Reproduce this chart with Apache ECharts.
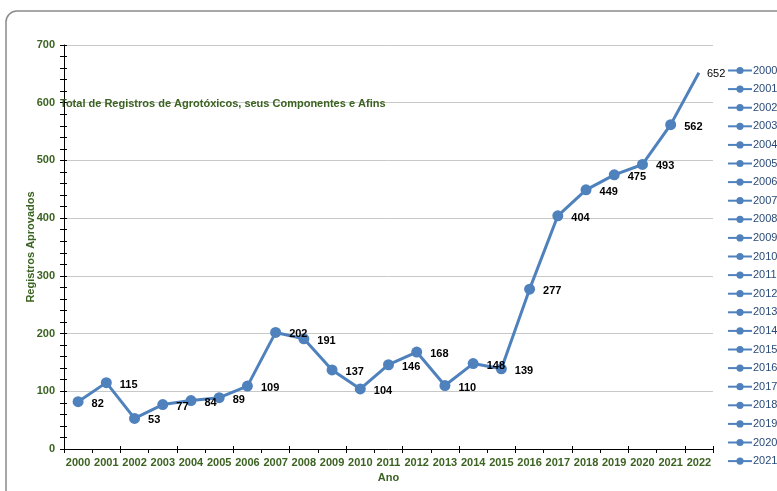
<!DOCTYPE html>
<html>
<head>
<meta charset="utf-8">
<script src="https://cdn.jsdelivr.net/npm/echarts@6/dist/echarts.min.js"></script>
<style>html,body{margin:0;padding:0;background:#fff;}#c{width:777px;height:491px;}</style>
</head>
<body>
<div id="c"></div>
<script>
var years = ['2000','2001','2002','2003','2004','2005','2006','2007','2008','2009','2010','2011','2012','2013','2014','2015','2016','2017','2018','2019','2020','2021','2022'];
var values = [82,115,53,77,84,89,109,202,191,137,104,146,168,110,148,139,277,404,449,475,493,562,652];
var legendNames = ['2000','2001','2002','2003','2004','2005','2006','2007','2008','2009','2010','2011','2012','2013','2014','2015','2016','2017','2018','2019','2020','2021'];
var yTicks = {min: 0, max: 700, interval: 100};
var titleText = 'Total de Registros de Agrotóxicos, seus Componentes e Afins';

var green = '#3B6321';
var blue = '#4F81BD';
var font = 'Liberation Sans, Arial, sans-serif';

var chart = echarts.init(document.getElementById('c'), null, {renderer: 'canvas'});

var mainData = values.map(function (v, i) {
  if (i === values.length - 1) {
    return {value: v, symbol: 'circle', symbolSize: 0, label: {fontWeight: 'normal', distance: 8, offset: [0, 1]}};
  }
  return v;
});

var series = [{
  name: 'Total',
  type: 'line',
  data: mainData,
  xAxisIndex: 0,
  yAxisIndex: 0,
  symbol: 'circle',
  symbolSize: 11,
  showAllSymbol: true,
  color: blue,
  lineStyle: {width: 3, color: blue},
  itemStyle: {color: blue},
  label: {
    show: true,
    position: 'right',
    distance: 8,
    offset: [0, 2],
    color: '#000',
    fontWeight: 'bold',
    fontSize: 11,
    fontFamily: font
  },
  z: 5
}];
legendNames.forEach(function (n) {
  series.push({
    name: n, type: 'line', data: [], symbol: 'circle', symbolSize: 7,
    color: blue, lineStyle: {width: 3, color: blue}, itemStyle: {color: blue}
  });
});

var option = {
  backgroundColor: '#fff',
  animation: false,
  textStyle: {fontFamily: font},
  graphic: [{
    type: 'rect',
    shape: {x: 6, y: 11, width: 820, height: 520, r: 11},
    style: {fill: 'none', stroke: '#8a8a8a', lineWidth: 1.5},
    silent: true
  }],
  title: {
    text: titleText,
    left: 55, top: 93,
    textStyle: {color: green, fontSize: 11, fontWeight: 'bold', fontFamily: font}
  },
  legend: {
    data: legendNames,
    orient: 'vertical',
    left: 727, top: 65,
    padding: 0,
    itemWidth: 24, itemHeight: 9, itemGap: 7.6,
    textStyle: {color: '#2a4a78', fontSize: 11, fontFamily: font, padding: [0, 0, 0, -4]}
  },
  grid: {left: 64, right: 64, top: 45, bottom: 42, containLabel: false},
  xAxis: [{
    type: 'category',
    data: years,
    boundaryGap: true,
    name: 'Ano',
    nameLocation: 'middle',
    nameGap: 22,
    nameTextStyle: {color: green, fontWeight: 'bold', fontSize: 11, fontFamily: font},
    axisLine: {lineStyle: {color: '#000', width: 1}},
    axisTick: {show: true, length: 4, lineStyle: {color: '#000'}},
    axisLabel: {color: green, fontWeight: 'bold', fontSize: 11, margin: 8, interval: 0, fontFamily: font},
    splitLine: {show: false}
  }, {
    type: 'category',
    data: years,
    position: 'bottom',
    boundaryGap: true,
    axisLine: {show: false},
    axisTick: {show: true, inside: true, length: 3, lineStyle: {color: '#000'}},
    axisLabel: {show: false},
    splitLine: {show: false}
  }],
  yAxis: [{
    type: 'value',
    min: yTicks.min, max: yTicks.max, interval: yTicks.interval,
    name: 'Registros Aprovados',
    nameLocation: 'middle',
    nameGap: 28,
    nameMoveOverlap: false,
    nameRotate: 90,
    nameTextStyle: {color: green, fontWeight: 'bold', fontSize: 11, fontFamily: font},
    axisLine: {show: true, lineStyle: {color: '#000', width: 1}},
    axisTick: {show: true, length: 4, lineStyle: {color: '#000'}},
    minorTick: {show: true, splitNumber: 5, length: 4, lineStyle: {color: '#000'}},
    axisLabel: {color: green, fontWeight: 'bold', fontSize: 11, margin: 9, fontFamily: font},
    splitLine: {show: true, lineStyle: {color: '#c8c8c8', width: 1}}
  }, {
    type: 'value',
    position: 'left',
    min: yTicks.min, max: yTicks.max, interval: yTicks.interval,
    axisLine: {show: false},
    axisTick: {show: true, inside: true, length: 3, lineStyle: {color: '#000'}},
    minorTick: {show: true, splitNumber: 5, length: 3, lineStyle: {color: '#000'}},
    axisLabel: {show: false},
    splitLine: {show: false}
  }],
  series: series
};
chart.setOption(option);
</script>
</body>
</html>
